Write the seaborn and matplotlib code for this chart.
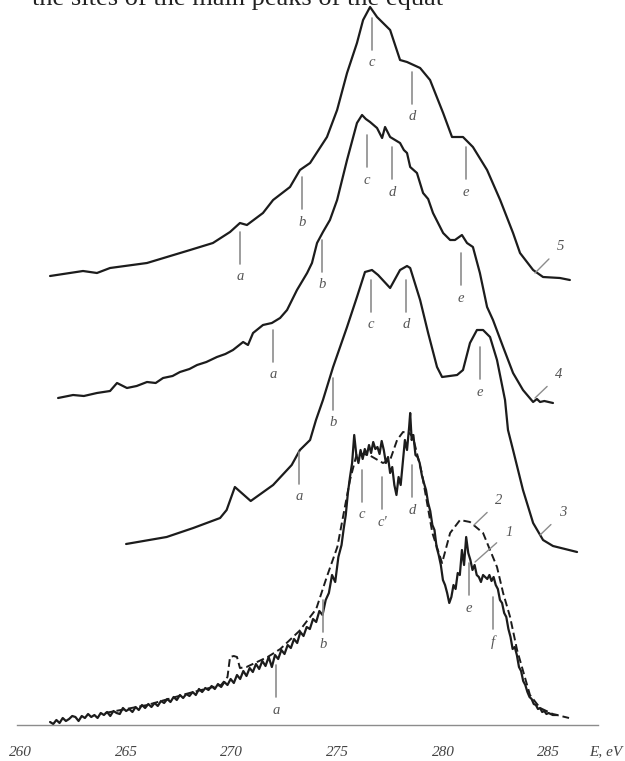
import numpy as np
import pandas as pd
import seaborn as sns
import matplotlib.pyplot as plt

# ---- curve data: photon energy (eV) vs. stacked intensity (arb. units, offset per curve) ----
c5_e = [261.40, 262.96, 263.62, 264.24, 265.99, 268.03, 269.11, 269.92, 270.39, 270.72,
        271.48, 271.96, 272.76, 273.23, 273.71, 274.51, 274.99, 275.46, 275.93, 276.22,
        276.55, 276.88, 277.50, 277.97, 278.30, 278.92, 279.39, 280.01, 280.43, 280.95,
        281.42, 282.09, 282.71, 283.32, 283.65, 284.27, 284.74, 285.54, 286.01]
c5_y = [449, 454, 452, 457, 462, 475, 482, 493, 502, 500,
        512, 525, 538, 555, 562, 588, 615, 652, 682, 705,
        718, 708, 695, 665, 663, 657, 645, 612, 588, 588,
        578, 555, 525, 492, 472, 455, 448, 447, 445]

c4_e = [261.78, 262.49, 263.00, 263.62, 264.24, 264.57, 265.04, 265.50, 265.99, 266.40,
        266.75, 267.20, 267.55, 268.00, 268.36, 268.80, 269.30, 269.70, 270.06, 270.54,
        270.77, 271.01, 271.48, 271.90, 272.29, 272.62, 273.09, 273.57, 273.80, 274.04,
        274.32, 274.65, 274.99, 275.46, 275.93, 276.17, 276.35, 276.55, 276.88, 277.12,
        277.26, 277.50, 277.97, 278.15, 278.30, 278.45, 278.77, 279.06, 279.30, 279.53,
        280.01, 280.34, 280.57, 280.90, 281.14, 281.42, 281.75, 282.09, 282.37, 282.85,
        283.32, 283.79, 284.27, 284.45, 284.60, 284.80, 285.21]
c4_y = [327, 330, 329, 332, 334, 342, 337, 339, 343, 342,
        347, 349, 353, 356, 360, 363, 368, 371, 375, 383,
        380, 392, 400, 402, 407, 415, 435, 452, 462, 482,
        493, 505, 525, 565, 602, 610, 606, 603, 597, 587,
        598, 588, 582, 575, 572, 558, 552, 532, 526, 512,
        492, 485, 485, 490, 482, 478, 452, 418, 405, 378,
        352, 335, 323, 326, 323, 324, 322]

c3_e = [265.00, 266.92, 268.18, 269.45, 269.76, 270.15, 270.90, 271.96, 272.84, 273.23,
        273.71, 273.99, 274.32, 274.80, 275.46, 275.93, 276.31, 276.64, 276.93, 277.50,
        277.97, 278.30, 278.45, 278.92, 279.30, 279.72, 279.96, 280.67, 280.95, 281.28,
        281.61, 281.90, 282.23, 282.56, 282.94, 283.08, 283.32, 283.79, 284.27, 284.74,
        285.21, 286.35]
c3_y = [181, 188, 197, 207, 215, 238, 224, 240, 260, 275,
        285, 305, 325, 358, 398, 428, 453, 455, 450, 437,
        455, 459, 457, 425, 392, 358, 348, 350, 355, 382,
        395, 395, 388, 365, 325, 295, 275, 235, 202, 185,
        179, 173]

c1_e = [261.40, 261.55, 261.70, 261.85, 262.00, 262.15, 262.30, 262.45, 262.60, 262.75,
        262.90, 263.05, 263.20, 263.35, 263.50, 263.65, 263.80, 263.95, 264.10, 264.25,
        264.40, 264.55, 264.70, 264.85, 265.00, 265.15, 265.30, 265.45, 265.60, 265.75,
        265.90, 266.05, 266.20, 266.35, 266.50, 266.65, 266.80, 266.95, 267.10, 267.25,
        267.40, 267.55, 267.70, 267.85, 268.00, 268.15, 268.30, 268.45, 268.60, 268.75,
        268.90, 269.05, 269.20, 269.35, 269.50, 269.65, 269.80, 269.95, 270.10, 270.25,
        270.40, 270.55, 270.70, 270.85, 271.00, 271.15, 271.30, 271.45, 271.60, 271.75,
        271.90, 272.05, 272.20, 272.35, 272.50, 272.65, 272.80, 272.95, 273.10, 273.25,
        273.40, 273.55, 273.70, 273.85, 274.00, 274.15, 274.30, 274.45, 274.60, 274.75,
        274.90, 275.05, 275.20, 275.30, 275.40, 275.50, 275.60, 275.70, 275.80, 275.90,
        276.00, 276.10, 276.20, 276.30, 276.40, 276.50, 276.60, 276.70, 276.80, 276.90,
        277.00, 277.10, 277.20, 277.30, 277.40, 277.50, 277.60, 277.70, 277.80, 277.90,
        278.00, 278.10, 278.20, 278.30, 278.40, 278.45, 278.52, 278.60, 278.70, 278.80,
        278.90, 279.00, 279.10, 279.20, 279.30, 279.40, 279.50, 279.60, 279.70, 279.80,
        279.90, 280.00, 280.10, 280.20, 280.30, 280.40, 280.50, 280.60, 280.70, 280.80,
        280.90, 281.00, 281.10, 281.20, 281.30, 281.40, 281.50, 281.60, 281.70, 281.80,
        281.90, 282.00, 282.10, 282.20, 282.30, 282.40, 282.50, 282.60, 282.70, 282.80,
        282.90, 283.00, 283.10, 283.20, 283.30, 283.40, 283.50, 283.60, 283.70, 283.80,
        283.90, 284.00, 284.10, 284.20, 284.30, 284.40, 284.50, 284.60, 284.70, 284.80,
        284.90, 285.00, 285.20, 285.40]
c1_y = [3, 1, 5, 2, 7, 4, 6, 9, 8,
        4, 9, 7, 11, 8, 10, 7, 12, 10, 13,
        9, 14, 12, 11, 17, 14, 16, 13, 18, 15,
        20, 17, 21, 18, 22, 19, 24, 22, 26, 23,
        28, 25, 30, 27, 31, 29, 33, 30, 36, 33,
        37, 35, 39, 36, 41, 38, 43, 40, 46, 42,
        50, 46, 54, 49, 57, 53, 61, 56, 64, 59,
        68, 58, 70, 66, 75, 71, 80, 77, 86, 82,
        93, 89, 98, 96, 106, 103, 114, 110, 125, 132,
        150, 143, 168, 180, 196, 210, 232, 248, 262, 290,
        270, 262, 275, 266, 276, 270, 280, 272, 283, 276,
        278, 271, 284, 275, 262, 268, 252, 258, 240, 230,
        248, 240, 262, 285, 275, 298, 312, 285, 290, 270,
        268, 262, 250, 242, 235, 222, 214, 200, 195, 178,
        170, 160, 145, 140, 132, 122, 128, 140, 136, 152,
        150, 175, 160, 188, 172, 165, 155, 160, 150, 148,
        143, 150, 148, 146, 150, 144, 148, 140, 136, 125,
        122, 112, 108, 96, 88, 76, 78, 70, 58, 54,
        44, 40, 33, 28, 26, 21, 20, 16, 17, 13,
        14, 11, 12, 10, 10]

c2_e = [264.00, 266.00, 268.00, 269.50, 269.80, 269.92, 270.10, 270.25, 270.39, 270.70,
        271.70, 272.30, 273.20, 274.00, 274.50, 275.00, 275.60, 275.93, 276.50, 277.16,
        277.50, 277.83, 278.11, 278.40, 278.58, 279.00, 279.50, 279.96, 280.34, 280.81,
        281.28, 281.90, 282.56, 282.85, 283.18, 283.51, 284.12, 284.60, 285.20, 285.97]
c2_y = [12, 20, 32, 40, 48, 68, 69, 68, 57, 58,
        68, 76, 94, 116, 148, 178, 245, 272, 270, 262,
        265, 285, 293, 292, 288, 252, 192, 162, 192, 205,
        203, 192, 158, 132, 108, 75, 30, 17, 11, 7]

# ---- peak markers: energy, top of the marker, label ----
c5_marks = ([270.39, 273.33, 276.64, 278.54, 281.09], [493, 548, 707, 653, 578], ['a', 'b', 'c', 'd', 'e'])
c4_marks = ([271.96, 274.28, 276.41, 277.59, 280.86], [395, 485, 590, 578, 472], ['a', 'b', 'c', 'd', 'e'])
c3_marks = ([273.20, 274.80, 276.60, 278.26, 281.75], [273, 347, 445, 445, 378], ['a', 'b', 'c', 'd', 'e'])
c1_marks = ([272.10, 274.32, 276.17, 277.12, 278.54, 281.23, 282.37], [60, 125, 255, 248, 260, 162, 128],
            ['a', 'b', 'c', "c'", 'd', 'e', 'f'])

# curve number labels: (label, point on curve, label position)
curve_tags = [('5', (284.36, 452), (285.58, 478)),
              ('4', (284.36, 327), (285.50, 350)),
              ('3', (284.60, 190), (285.68, 212)),
              ('2', (281.47, 200), (282.66, 224)),
              ('1', (281.52, 163), (283.12, 193))]

major_ticks = [260, 265, 270, 275, 280, 285]
minor_ticks = [262.5, 267.5, 272.5, 277.5, 282.5]

sns.set_style("white")
plt.rcParams['font.family'] = ['Liberation Serif', 'DejaVu Serif']

fig = plt.figure(figsize=(6.25, 7.61), dpi=100)
ax = fig.add_axes([0, 0, 1, 1])
ax.patch.set_alpha(0)

ink = '#1c1c1c'
grey = '#8c8c8c'

for e, y in [(c5_e, c5_y), (c4_e, c4_y), (c3_e, c3_y), (c1_e, c1_y)]:
    sns.lineplot(x=e, y=y, ax=ax, color=ink, lw=1.6, estimator=None, sort=False, legend=False)
sns.lineplot(x=c2_e, y=c2_y, ax=ax, color=ink, lw=1.4, linestyle=(0, (4, 2)),
             estimator=None, sort=False, legend=False)

# peak markers
for me, mt, ml in [c5_marks, c4_marks, c3_marks, c1_marks]:
    for e, top, lab in zip(me, mt, ml):
        ax.plot([e, e], [top, top - 32], color=grey, lw=1.2)
        ax.text(e, top - 45, lab, ha='center', va='center', fontsize=10.5,
                style='italic', color='#555555')

for lab, p0, p1 in curve_tags:
    ax.annotate(lab, xy=p0, xytext=p1, ha='center', va='center', fontsize=10.5,
                style='italic', color='#555555',
                arrowprops=dict(arrowstyle='-', color=grey, lw=1.0, shrinkA=5, shrinkB=0))

# axis
for s in ['left', 'right', 'top']:
    ax.spines[s].set_visible(False)
ax.spines['bottom'].set_position(('data', 0))
ax.spines['bottom'].set_bounds(259.84, 287.34)
ax.spines['bottom'].set_color(grey)
ax.spines['bottom'].set_linewidth(1.0)
ax.set_xticks(major_ticks)
ax.set_xticklabels([str(t) for t in major_ticks], fontstyle='italic')
ax.set_xticks(minor_ticks, minor=True)
ax.tick_params(axis='x', which='major', direction='out', length=8, width=1.0, color=grey,
               pad=7, labelsize=11, labelcolor='#444444')
ax.tick_params(axis='x', which='minor', direction='out', length=4.5, width=1.0, color=grey)
ax.set_yticks([])
ax.text(287.72, -27, 'E, eV', ha='center', va='center', fontsize=11, style='italic', color='#444444')

ax.set_xlim(259.03, 288.62)
ax.set_ylim(-36, 725)

# cut-off caption line from the page above the figure (only its lower part shows)
fig.text(32 / 625, 1 - 5 / 761, 'the sites of the main peaks of the equat', fontsize=19,
         va='baseline', ha='left', color='#222222')

fig.savefig('out.png', dpi=100, facecolor='white')
